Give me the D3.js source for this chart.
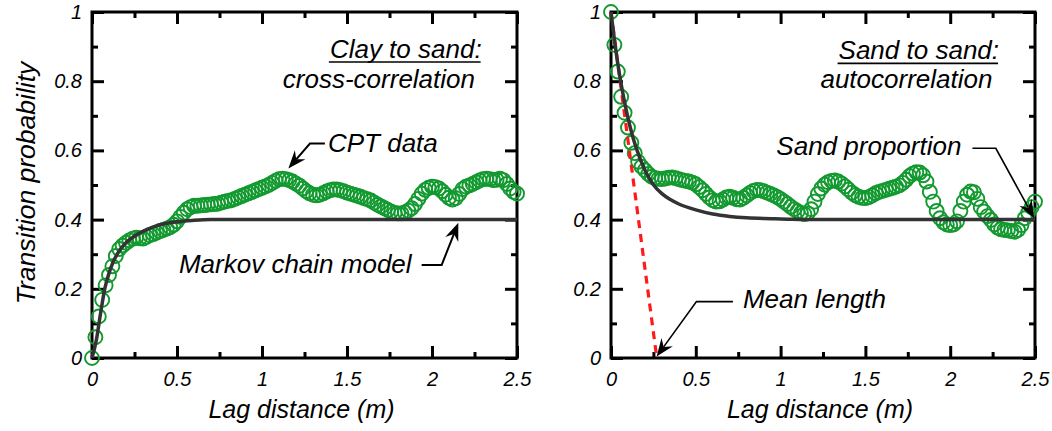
<!DOCTYPE html>
<html>
<head>
<meta charset="utf-8">
<script src="https://cdn.jsdelivr.net/npm/d3@7"></script>
<style>
  html, body { margin: 0; padding: 0; background: #fff; }
  svg { display: block; }
  text { font-family: "Liberation Sans", Arial, sans-serif; font-style: italic; fill: #000; }
</style>
</head>
<body>
<svg id="chart" width="1052" height="431"></svg>
<script>
// ---------- data ----------
const lags = [0,0.02,0.04,0.06,0.08,0.1,0.12,0.14,0.16,0.18,0.2,0.22,0.24,0.26,0.28,0.3,0.32,0.34,0.36,0.38,
  0.4,0.42,0.44,0.46,0.48,0.5,0.52,0.54,0.56,0.58,0.6,0.62,0.64,0.66,0.68,0.7,0.72,0.74,0.76,0.78,
  0.8,0.82,0.84,0.86,0.88,0.9,0.92,0.94,0.96,0.98,1,1.02,1.04,1.06,1.08,1.1,1.12,1.14,1.16,1.18,
  1.2,1.22,1.24,1.26,1.28,1.3,1.32,1.34,1.36,1.38,1.4,1.42,1.44,1.46,1.48,1.5,1.52,1.54,1.56,1.58,
  1.6,1.62,1.64,1.66,1.68,1.7,1.72,1.74,1.76,1.78,1.8,1.82,1.84,1.86,1.88,1.9,1.92,1.94,1.96,1.98,
  2,2.02,2.04,2.06,2.08,2.1,2.12,2.14,2.16,2.18,2.2,2.22,2.24,2.26,2.28,2.3,2.32,2.34,2.36,2.38,
  2.4,2.42,2.44,2.46,2.48,2.5];

const clayToSandCPT = [0,0.06,0.12,0.168,0.21,0.24,0.265,0.295,0.315,0.325,0.333,0.34,0.345,0.348,0.346,0.345,0.35,0.355,0.358,0.362,
  0.367,0.37,0.374,0.378,0.385,0.395,0.408,0.42,0.43,0.436,0.44,0.44,0.441,0.442,0.443,0.444,0.445,0.446,0.449,0.452,
  0.454,0.456,0.46,0.464,0.468,0.472,0.476,0.48,0.484,0.488,0.492,0.496,0.5,0.506,0.512,0.517,0.518,0.517,0.514,0.51,
  0.504,0.498,0.49,0.482,0.476,0.472,0.47,0.472,0.476,0.481,0.485,0.487,0.487,0.485,0.482,0.478,0.475,0.472,0.469,0.466,
  0.462,0.459,0.455,0.449,0.443,0.438,0.433,0.428,0.423,0.419,0.418,0.418,0.421,0.426,0.433,0.445,0.46,0.475,0.486,0.492,
  0.495,0.494,0.49,0.482,0.472,0.463,0.458,0.462,0.474,0.488,0.495,0.499,0.503,0.508,0.513,0.517,0.518,0.517,0.514,0.515,
  0.518,0.514,0.503,0.49,0.48,0.475];

const sandToSandCPT = [1.0,0.905,0.828,0.755,0.709,0.666,0.622,0.592,0.567,0.553,0.543,0.532,0.524,0.52,0.518,0.517,0.519,0.521,0.522,0.52,
  0.517,0.514,0.512,0.51,0.507,0.502,0.494,0.485,0.474,0.464,0.456,0.452,0.453,0.458,0.464,0.466,0.463,0.459,0.458,0.463,
  0.47,0.477,0.483,0.486,0.485,0.482,0.478,0.474,0.47,0.465,0.459,0.452,0.445,0.437,0.43,0.424,0.419,0.416,0.418,0.43,
  0.452,0.474,0.49,0.501,0.508,0.512,0.513,0.51,0.504,0.496,0.487,0.478,0.471,0.466,0.463,0.462,0.465,0.47,0.476,0.48,
  0.483,0.486,0.489,0.492,0.495,0.499,0.506,0.515,0.526,0.533,0.537,0.536,0.528,0.51,0.48,0.452,0.425,0.404,0.392,0.386,
  0.384,0.386,0.395,0.425,0.452,0.472,0.481,0.479,0.46,0.436,0.423,0.41,0.399,0.386,0.377,0.372,0.37,0.369,0.367,0.365,
  0.37,0.384,0.404,0.42,0.436,0.452];

const clayModelLags = [0,0.025,0.05,0.075,0.1,0.125,0.15,0.2,0.25,0.3,0.35,0.4,0.5,0.6,0.7,1.0,1.5,2.0,2.5];
const clayModel     = [0,0.05,0.128,0.2,0.245,0.278,0.302,0.333,0.352,0.366,0.377,0.385,0.394,0.398,0.4,0.4,0.4,0.4,0.4];

const sandModelLags = [0,0.025,0.05,0.075,0.1,0.125,0.15,0.2,0.25,0.3,0.35,0.4,0.5,0.6,0.7,0.8,0.9,1.0,1.2,1.5,2.0,2.5];
const sandModel     = [1,0.902,0.82,0.752,0.694,0.645,0.605,0.543,0.501,0.475,0.458,0.445,0.428,0.416,0.409,0.405,0.403,0.402,0.4,0.4,0.4,0.4];

const meanLengthLags = [0, 0.27];
const meanLengthProb = [1, 0];

const xMajorTicks = [0,0.5,1,1.5,2,2.5];
const xTickLabels = ["0","0.5","1","1.5","2","2.5"];
const xMinorTicks = [0.25,0.75,1.25,1.75,2.25];
const yMajorTicks = [0,0.2,0.4,0.6,0.8,1];
const yTickLabels = ["0","0.2","0.4","0.6","0.8","1"];
const yMinorTicks = [0.1,0.3,0.5,0.7,0.9];

// ---------- layout ----------
const svg = d3.select("#chart");
const plotTop = 12, plotBottom = 358;
const green = "#12992f";

function panel(cfg) {
  const x = d3.scaleLinear().domain([0, 2.5]).range([cfg.x0, cfg.x1]);
  const y = d3.scaleLinear().domain([0, 1]).range([plotBottom, plotTop]);
  const g = svg.append("g");

  function styleAxis(sel) {
    sel.select(".domain").remove();
    sel.selectAll("line").attr("stroke", "#000").attr("stroke-width", 3);
    sel.selectAll("text").style("font-size", "20px").style("font-style", "italic")
       .style("font-family", '"Liberation Sans", Arial, sans-serif').attr("fill", "#000");
  }
  const fmtX = d => xTickLabels[xMajorTicks.indexOf(d)];
  const fmtY = d => yTickLabels[yMajorTicks.indexOf(d)];
  g.append("g").attr("transform", `translate(0,${plotBottom})`)
    .call(d3.axisBottom(x).tickValues(xMajorTicks).tickSize(-12).tickPadding(14).tickFormat(fmtX)).call(styleAxis);
  g.append("g").attr("transform", `translate(0,${plotBottom})`)
    .call(d3.axisBottom(x).tickValues(xMinorTicks).tickSize(-6).tickFormat("")).call(styleAxis);
  g.append("g").attr("transform", `translate(0,${plotTop})`)
    .call(d3.axisTop(x).tickValues(xMajorTicks).tickSize(-12).tickFormat("")).call(styleAxis);
  g.append("g").attr("transform", `translate(0,${plotTop})`)
    .call(d3.axisTop(x).tickValues(xMinorTicks).tickSize(-6).tickFormat("")).call(styleAxis);
  g.append("g").attr("transform", `translate(${cfg.x0},0)`)
    .call(d3.axisLeft(y).tickValues(yMajorTicks).tickSize(-12).tickPadding(10).tickFormat(fmtY)).call(styleAxis);
  g.append("g").attr("transform", `translate(${cfg.x0},0)`)
    .call(d3.axisLeft(y).tickValues(yMinorTicks).tickSize(-6).tickFormat("")).call(styleAxis);
  g.append("g").attr("transform", `translate(${cfg.x1},0)`)
    .call(d3.axisRight(y).tickValues(yMajorTicks).tickSize(-12).tickFormat("")).call(styleAxis);
  g.append("g").attr("transform", `translate(${cfg.x1},0)`)
    .call(d3.axisRight(y).tickValues(yMinorTicks).tickSize(-6).tickFormat("")).call(styleAxis);

  g.append("rect").attr("x", cfg.x0).attr("y", plotTop)
    .attr("width", cfg.x1 - cfg.x0).attr("height", plotBottom - plotTop)
    .attr("fill", "none").attr("stroke", "#000").attr("stroke-width", 3);

  g.append("g").selectAll("circle").data(lags.map((l, i) => [l, cfg.data[i]])).join("circle")
    .attr("cx", d => x(d[0])).attr("cy", d => y(d[1])).attr("r", 7)
    .attr("fill", "none").attr("stroke", green).attr("stroke-width", 1.9);

  if (cfg.tangent) {
    g.append("path").datum(meanLengthLags.map((l, i) => [l, meanLengthProb[i]]))
      .attr("d", d3.line().x(d => x(d[0])).y(d => y(d[1])))
      .attr("fill", "none").attr("stroke", "#ff1a1a").attr("stroke-width", 3.2)
      .attr("stroke-dasharray", "8,6");
  }

  g.append("path").datum(cfg.modelLags.map((l, i) => [l, cfg.model[i]]))
    .attr("d", d3.line().x(d => x(d[0])).y(d => y(d[1])).curve(d3.curveMonotoneX))
    .attr("fill", "none").attr("stroke", "#333").attr("stroke-width", 3.5);

  const t1 = g.append("text").attr("x", x(cfg.title[0])).attr("y", y(cfg.title[1]))
    .attr("text-anchor", "end").style("font-size", "26px").text(cfg.title[2]);
  const bb = t1.node().getBBox();
  g.append("line").attr("x1", bb.x - 1).attr("x2", bb.x + bb.width - 1)
    .attr("y1", y(cfg.title[1]) + 4).attr("y2", y(cfg.title[1]) + 4)
    .attr("stroke", "#000").attr("stroke-width", 1.6);
  g.append("text").attr("x", x(cfg.subtitle[0])).attr("y", y(cfg.subtitle[1]))
    .attr("text-anchor", "end").style("font-size", "26px").text(cfg.subtitle[2]);

  cfg.notes.forEach(n => {
    g.append("text").attr("x", x(n.tx)).attr("y", y(n.ty)).attr("text-anchor", n.anchor)
      .style("font-size", "26px").text(n.label);
    const pts = n.path.map(p => [x(p[0]), y(p[1])]);
    const tip = pts[pts.length - 1], prev = pts[pts.length - 2];
    const dx = tip[0] - prev[0], dy = tip[1] - prev[1];
    const len = Math.hypot(dx, dy), ux = dx / len, uy = dy / len;
    const L = 18, W = 7, N = 12;
    const lineEnd = [tip[0] - ux * N, tip[1] - uy * N];
    const linePts = pts.slice(0, -1).concat([lineEnd]);
    g.append("path").attr("d", d3.line()(linePts)).attr("fill", "none")
      .attr("stroke", "#000").attr("stroke-width", n.w);
    const bx = tip[0] - ux * L, by = tip[1] - uy * L;
    const head = [tip, [bx - uy * W, by + ux * W], [tip[0] - ux * N, tip[1] - uy * N], [bx + uy * W, by - ux * W]];
    g.append("path").attr("d", d3.line()(head) + "Z").attr("fill", "#000");
  });

  g.append("text").attr("x", (cfg.x0 + cfg.x1) / 2 - 3).attr("y", 418)
    .attr("text-anchor", "middle").style("font-size", "25px").text("Lag distance (m)");
}

panel({
  x0: 92, x1: 517, data: clayToSandCPT, modelLags: clayModelLags, model: clayModel, tangent: false,
  title: [2.292, 0.867, "Clay to sand:"], subtitle: [2.253, 0.78, "cross-correlation"],
  notes: [
    { label: "CPT data", tx: 1.388, ty: 0.596, anchor: "start", w: 2,
      path: [[1.37, 0.62], [1.282, 0.62], [1.155, 0.548]] },
    { label: "Markov chain model", tx: 1.88, ty: 0.247, anchor: "end", w: 2,
      path: [[1.939, 0.269], [2.057, 0.269], [2.155, 0.391]] }
  ]
});

panel({
  x0: 611, x1: 1035, data: sandToSandCPT, modelLags: sandModelLags, model: sandModel, tangent: true,
  title: [2.288, 0.863, "Sand to sand:"], subtitle: [2.249, 0.779, "autocorrelation"],
  notes: [
    { label: "Sand proportion", tx: 0.975, ty: 0.587, anchor: "start", w: 1.6,
      path: [[2.131, 0.606], [2.269, 0.606], [2.495, 0.404]] },
    { label: "Mean length", tx: 0.778, ty: 0.144, anchor: "start", w: 1.6,
      path: [[0.719, 0.163], [0.504, 0.163], [0.269, 0.004]] }
  ]
});

svg.append("text").attr("transform", "translate(35,183) rotate(-90)")
  .attr("text-anchor", "middle").style("font-size", "26.5px").text("Transition probability");
</script>
</body>
</html>
